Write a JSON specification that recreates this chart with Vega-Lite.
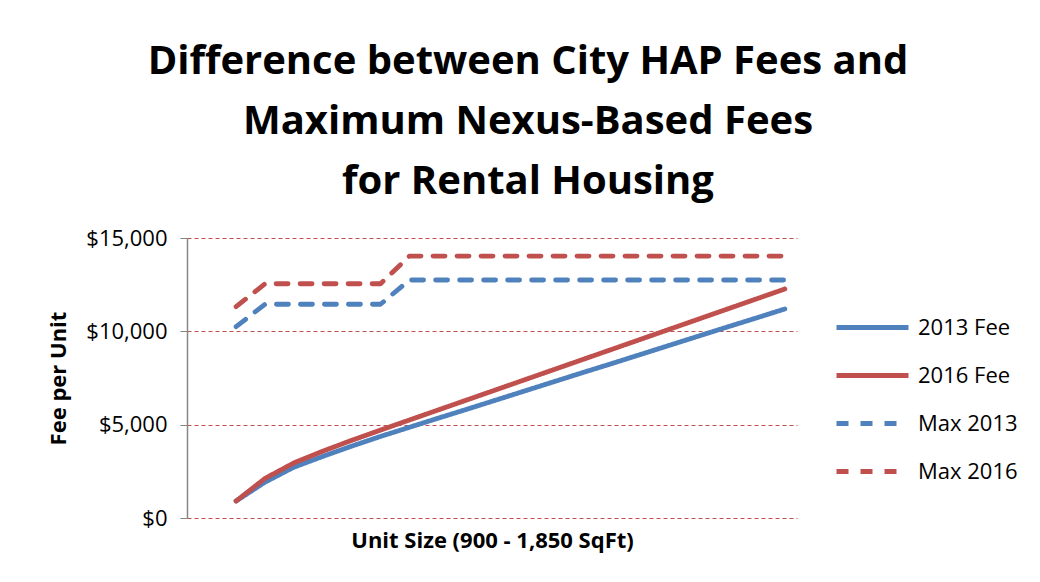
{
  "$schema": "https://vega.github.io/schema/vega-lite/v6.json",
  "width": 610,
  "height": 280,
  "autosize": {"type": "none"},
  "padding": {"left": 187, "top": 238, "right": 243, "bottom": 64},
  "background": "white",
  "config": {"font": "Open Sans", "view": {"stroke": null}},
  "title": {
    "text": ["Difference between City HAP Fees and", "Maximum Nexus-Based Fees", "for Rental Housing"],
    "fontSize": 40,
    "fontWeight": "bold",
    "font": "Open Sans",
    "color": "black",
    "lineHeight": 60,
    "anchor": "middle",
    "frame": "group",
    "dx": 36,
    "offset": 25
  },
  "datasets": {
    "fees": [
      {"sqft": 900, "series": "2013 Fee", "fee": 910},
      {"sqft": 950, "series": "2013 Fee", "fee": 1920},
      {"sqft": 1000, "series": "2013 Fee", "fee": 2720},
      {"sqft": 1050, "series": "2013 Fee", "fee": 3300},
      {"sqft": 1100, "series": "2013 Fee", "fee": 3850},
      {"sqft": 1150, "series": "2013 Fee", "fee": 4370},
      {"sqft": 1200, "series": "2013 Fee", "fee": 4860},
      {"sqft": 1250, "series": "2013 Fee", "fee": 5350},
      {"sqft": 1300, "series": "2013 Fee", "fee": 5830},
      {"sqft": 1350, "series": "2013 Fee", "fee": 6320},
      {"sqft": 1400, "series": "2013 Fee", "fee": 6810},
      {"sqft": 1450, "series": "2013 Fee", "fee": 7300},
      {"sqft": 1500, "series": "2013 Fee", "fee": 7790},
      {"sqft": 1550, "series": "2013 Fee", "fee": 8270},
      {"sqft": 1600, "series": "2013 Fee", "fee": 8760},
      {"sqft": 1650, "series": "2013 Fee", "fee": 9250},
      {"sqft": 1700, "series": "2013 Fee", "fee": 9740},
      {"sqft": 1750, "series": "2013 Fee", "fee": 10230},
      {"sqft": 1800, "series": "2013 Fee", "fee": 10710},
      {"sqft": 1850, "series": "2013 Fee", "fee": 11200},
      {"sqft": 900, "series": "2016 Fee", "fee": 910},
      {"sqft": 950, "series": "2016 Fee", "fee": 2120},
      {"sqft": 1000, "series": "2016 Fee", "fee": 2950},
      {"sqft": 1050, "series": "2016 Fee", "fee": 3580},
      {"sqft": 1100, "series": "2016 Fee", "fee": 4160},
      {"sqft": 1150, "series": "2016 Fee", "fee": 4710},
      {"sqft": 1200, "series": "2016 Fee", "fee": 5250},
      {"sqft": 1250, "series": "2016 Fee", "fee": 5790},
      {"sqft": 1300, "series": "2016 Fee", "fee": 6330},
      {"sqft": 1350, "series": "2016 Fee", "fee": 6870},
      {"sqft": 1400, "series": "2016 Fee", "fee": 7410},
      {"sqft": 1450, "series": "2016 Fee", "fee": 7950},
      {"sqft": 1500, "series": "2016 Fee", "fee": 8490},
      {"sqft": 1550, "series": "2016 Fee", "fee": 9030},
      {"sqft": 1600, "series": "2016 Fee", "fee": 9570},
      {"sqft": 1650, "series": "2016 Fee", "fee": 10110},
      {"sqft": 1700, "series": "2016 Fee", "fee": 10650},
      {"sqft": 1750, "series": "2016 Fee", "fee": 11190},
      {"sqft": 1800, "series": "2016 Fee", "fee": 11730},
      {"sqft": 1850, "series": "2016 Fee", "fee": 12270},
      {"sqft": 900, "series": "Max 2013", "fee": 10250},
      {"sqft": 950, "series": "Max 2013", "fee": 11450},
      {"sqft": 1000, "series": "Max 2013", "fee": 11450},
      {"sqft": 1050, "series": "Max 2013", "fee": 11450},
      {"sqft": 1100, "series": "Max 2013", "fee": 11450},
      {"sqft": 1150, "series": "Max 2013", "fee": 11450},
      {"sqft": 1200, "series": "Max 2013", "fee": 12750},
      {"sqft": 1250, "series": "Max 2013", "fee": 12750},
      {"sqft": 1300, "series": "Max 2013", "fee": 12750},
      {"sqft": 1350, "series": "Max 2013", "fee": 12750},
      {"sqft": 1400, "series": "Max 2013", "fee": 12750},
      {"sqft": 1450, "series": "Max 2013", "fee": 12750},
      {"sqft": 1500, "series": "Max 2013", "fee": 12750},
      {"sqft": 1550, "series": "Max 2013", "fee": 12750},
      {"sqft": 1600, "series": "Max 2013", "fee": 12750},
      {"sqft": 1650, "series": "Max 2013", "fee": 12750},
      {"sqft": 1700, "series": "Max 2013", "fee": 12750},
      {"sqft": 1750, "series": "Max 2013", "fee": 12750},
      {"sqft": 1800, "series": "Max 2013", "fee": 12750},
      {"sqft": 1850, "series": "Max 2013", "fee": 12750},
      {"sqft": 900, "series": "Max 2016", "fee": 11320},
      {"sqft": 950, "series": "Max 2016", "fee": 12550},
      {"sqft": 1000, "series": "Max 2016", "fee": 12550},
      {"sqft": 1050, "series": "Max 2016", "fee": 12550},
      {"sqft": 1100, "series": "Max 2016", "fee": 12550},
      {"sqft": 1150, "series": "Max 2016", "fee": 12550},
      {"sqft": 1200, "series": "Max 2016", "fee": 14030},
      {"sqft": 1250, "series": "Max 2016", "fee": 14030},
      {"sqft": 1300, "series": "Max 2016", "fee": 14030},
      {"sqft": 1350, "series": "Max 2016", "fee": 14030},
      {"sqft": 1400, "series": "Max 2016", "fee": 14030},
      {"sqft": 1450, "series": "Max 2016", "fee": 14030},
      {"sqft": 1500, "series": "Max 2016", "fee": 14030},
      {"sqft": 1550, "series": "Max 2016", "fee": 14030},
      {"sqft": 1600, "series": "Max 2016", "fee": 14030},
      {"sqft": 1650, "series": "Max 2016", "fee": 14030},
      {"sqft": 1700, "series": "Max 2016", "fee": 14030},
      {"sqft": 1750, "series": "Max 2016", "fee": 14030},
      {"sqft": 1800, "series": "Max 2016", "fee": 14030},
      {"sqft": 1850, "series": "Max 2016", "fee": 14030}
    ]
  },
  "data": {"name": "fees"},
  "mark": {"type": "line", "strokeWidth": 4.8, "strokeCap": "round", "strokeJoin": "round"},
  "encoding": {
    "x": {
      "field": "sqft",
      "type": "quantitative",
      "scale": {"domain": [815, 1871], "nice": false, "zero": false},
      "axis": {
        "title": "Unit Size (900 - 1,850 SqFt)",
        "labels": false,
        "ticks": false,
        "domain": false,
        "grid": false,
        "titleFontSize": 22,
        "titleFontWeight": "bold",
        "titleColor": "black",
        "titlePadding": 12
      }
    },
    "y": {
      "field": "fee",
      "type": "quantitative",
      "scale": {"domain": [0, 15000], "nice": false},
      "axis": {
        "values": [0, 5000, 10000, 15000],
        "format": "$,.0f",
        "title": "Fee per Unit",
        "titleFontSize": 22,
        "titleFontWeight": "bold",
        "titleColor": "black",
        "titlePadding": 15,
        "labelFontSize": 22,
        "labelColor": "black",
        "labelPadding": 13,
        "tickSize": 7,
        "tickColor": "#868686",
        "domainColor": "#868686",
        "domainWidth": 1.5,
        "gridColor": "#c0504d",
        "gridDash": [4, 3],
        "gridWidth": 1
      }
    },
    "color": {
      "field": "series",
      "type": "nominal",
      "scale": {"domain": ["2013 Fee", "2016 Fee", "Max 2013", "Max 2016"], "range": ["#4f81bd", "#c0504d", "#4f81bd", "#c0504d"]},
      "legend": {
        "title": null,
        "orient": "none",
        "legendX": 671,
        "legendY": 75,
        "padding": 0,
        "symbolType": "M-3,0L3,0",
        "symbolSize": 576,
        "symbolStrokeWidth": 4.8,
        "labelFontSize": 22,
        "labelColor": "black",
        "labelOffset": 31,
        "rowPadding": 22
      }
    },
    "strokeDash": {
      "field": "series",
      "type": "nominal",
      "scale": {"domain": ["2013 Fee", "2016 Fee", "Max 2013", "Max 2016"], "range": [[1, 0], [1, 0], [12, 12], [12, 12]]},
      "legend": {
        "title": null,
        "orient": "none",
        "legendX": 671,
        "legendY": 75,
        "padding": 0,
        "symbolType": "M-3,0L3,0",
        "symbolSize": 576,
        "symbolStrokeWidth": 4.8,
        "labelFontSize": 22,
        "labelColor": "black",
        "labelOffset": 31,
        "rowPadding": 22
      }
    }
  }
}
